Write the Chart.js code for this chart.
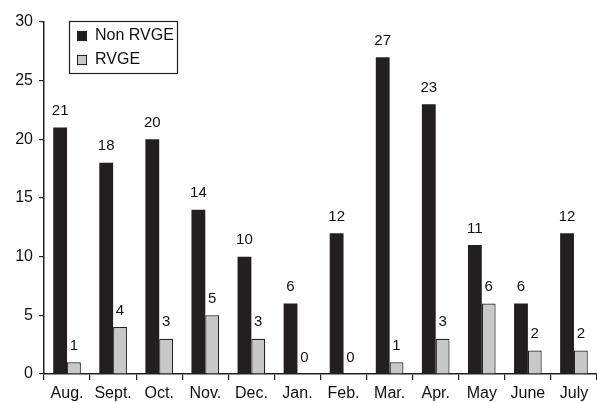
<!DOCTYPE html>
<html>
<head>
<meta charset="utf-8">
<script src="https://cdn.jsdelivr.net/npm/chart.js@4"></script>
<style>
  html, body { margin: 0; padding: 0; background: #fff; }
  #wrap { width: 597px; height: 403px; }
</style>
</head>
<body>
<div id="wrap"><canvas id="rvgeChart" width="597" height="403"></canvas></div>
<script>
const months = ['Aug.', 'Sept.', 'Oct.', 'Nov.', 'Dec.', 'Jan.', 'Feb.', 'Mar.', 'Apr.', 'May', 'June', 'July'];
const nonRvge = [21, 18, 20, 14, 10, 6, 12, 27, 23, 11, 6, 12];
const rvge = [1, 4, 3, 5, 3, 0, 0, 1, 3, 6, 2, 2];
const yTicks = [0, 5, 10, 15, 20, 25, 30];

const FONT = "'Liberation Sans', Arial, sans-serif";

// valeurs au-dessus des barres
const valueLabels = {
  id: 'valueLabels',
  afterDatasetsDraw(chart) {
    const ctx = chart.ctx;
    ctx.save();
    ctx.font = '15px ' + FONT;
    ctx.fillStyle = '#111';
    ctx.textAlign = 'center';
    ctx.textBaseline = 'bottom';
    chart.data.datasets.forEach((ds, i) => {
      chart.getDatasetMeta(i).data.forEach((bar, j) => {
        ctx.fillText(String(ds.data[j]), bar.x, bar.y - 9);
      });
    });
    ctx.restore();
  }
};

// légende encadrée dans le graphique
const boxLegend = {
  id: 'boxLegend',
  afterDraw(chart) {
    const ctx = chart.ctx;
    const a = chart.chartArea;
    const x = a.left + 25, y = a.top - 1, w = 108, h = 52;
    ctx.save();
    ctx.fillStyle = '#fff';
    ctx.fillRect(x, y, w, h);
    ctx.strokeStyle = '#222';
    ctx.lineWidth = 1.2;
    ctx.strokeRect(x + 0.5, y + 0.5, w, h);
    ctx.font = '16px ' + FONT;
    ctx.textBaseline = 'middle';
    chart.data.datasets.forEach((ds, i) => {
      const cy = y + 15 + i * 24;
      ctx.fillStyle = ds.backgroundColor;
      ctx.fillRect(x + 8, cy - 5, 10, 10);
      ctx.strokeStyle = '#222';
      ctx.lineWidth = 1;
      ctx.strokeRect(x + 8.5, cy - 4.5, 9, 9);
      ctx.fillStyle = '#111';
      ctx.fillText(ds.label, x + 26, cy);
    });
    ctx.restore();
  }
};

new Chart(document.getElementById('rvgeChart'), {
  type: 'bar',
  data: {
    labels: months,
    datasets: [
      {
        label: 'Non RVGE',
        data: nonRvge,
        backgroundColor: '#231f20',
        borderColor: '#231f20',
        borderWidth: 0,
        categoryPercentage: 0.6,
        barPercentage: 1.0
      },
      {
        label: 'RVGE',
        data: rvge,
        backgroundColor: '#c8c8c8',
        borderColor: '#222',
        borderWidth: 1.2,
        categoryPercentage: 0.6,
        barPercentage: 1.0
      }
    ]
  },
  options: {
    responsive: false,
    animation: false,
    layout: { padding: { top: 22, right: 0, left: 0, bottom: 0 } },
    plugins: {
      legend: { display: false },
      tooltip: { enabled: false }
    },
    scales: {
      x: {
        offset: true,
        grid: {
          offset: true,
          drawOnChartArea: false,
          drawTicks: true,
          tickLength: 6,
          color: '#222',
          lineWidth: 1.2
        },
        border: { color: '#222', width: 1.5 },
        ticks: {
          color: '#111',
          font: { family: FONT, size: 16 },
          padding: 4,
          maxRotation: 0,
          autoSkip: false
        },
        afterFit(scale) { scale.height = 29; }
      },
      y: {
        min: 0,
        max: 30,
        afterBuildTicks(scale) { scale.ticks = yTicks.map(v => ({ value: v })); },
        grid: {
          drawOnChartArea: false,
          drawTicks: true,
          tickLength: 5,
          color: '#222',
          lineWidth: 1.2
        },
        border: { color: '#222', width: 1.5 },
        ticks: {
          color: '#111',
          font: { family: FONT, size: 16 },
          padding: 6
        },
        afterFit(scale) { scale.width = 44; }
      }
    }
  },
  plugins: [valueLabels, boxLegend]
});
</script>
</body>
</html>
